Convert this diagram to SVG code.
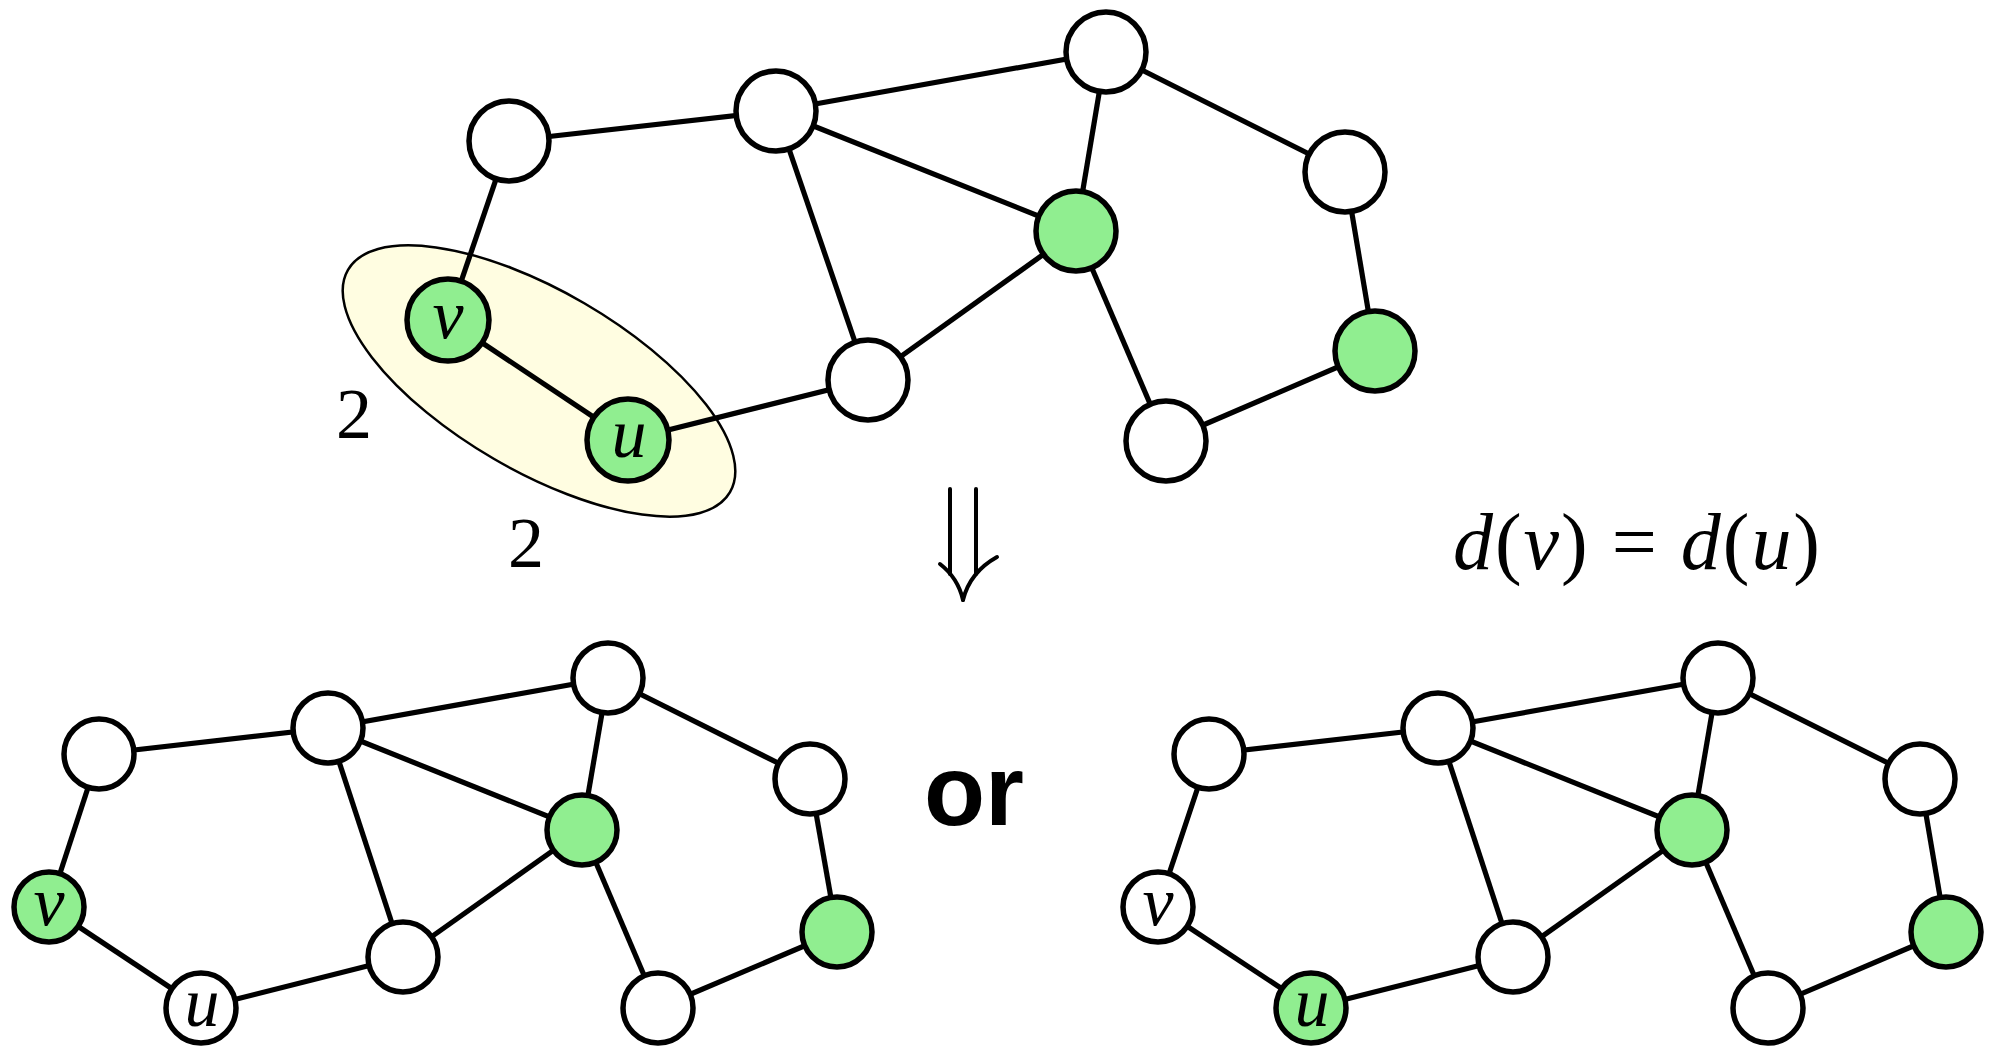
<svg xmlns="http://www.w3.org/2000/svg" width="1996" height="1049" viewBox="0 0 1996 1049">
<style>
.e{stroke:#000;stroke-width:5.2;fill:none}
.n{stroke:#000;stroke-width:5.5;fill:#fff}
.g{fill:#90EE90}
.lbl{font-family:'Liberation Serif','DejaVu Serif',serif;font-style:italic;font-size:70px;text-anchor:middle;fill:#000}
.num{font-family:'Liberation Serif','DejaVu Serif',serif;font-size:72px;text-anchor:middle;fill:#000}
.m{font-family:'Liberation Serif','DejaVu Serif',serif;font-size:80px;fill:#000}
.it{font-style:italic}
</style>
<rect width="1996" height="1049" fill="#fff"/>
<ellipse id="highlight" cx="539" cy="381" rx="221" ry="90" transform="rotate(30.2 539 381)" fill="#FFFDE1" stroke="#000" stroke-width="2.5"/>
<g id="connectors">
<line class="e" x1="509" y1="141" x2="776" y2="111"/>
<line class="e" x1="776" y1="111" x2="1106" y2="52"/>
<line class="e" x1="776" y1="111" x2="1076" y2="231"/>
<line class="e" x1="776" y1="111" x2="868" y2="380"/>
<line class="e" x1="1106" y1="52" x2="1076" y2="231"/>
<line class="e" x1="1106" y1="52" x2="1345" y2="172"/>
<line class="e" x1="1345" y1="172" x2="1375" y2="351"/>
<line class="e" x1="1076" y1="231" x2="868" y2="380"/>
<line class="e" x1="1076" y1="231" x2="1166" y2="441"/>
<line class="e" x1="1166" y1="441" x2="1375" y2="351"/>
<line class="e" x1="868" y1="380" x2="628" y2="440"/>
<line class="e" x1="509" y1="141" x2="448" y2="320"/>
<line class="e" x1="448" y1="320" x2="628" y2="440" stroke-width="7"/>
<line class="e" x1="99" y1="754" x2="328" y2="728"/>
<line class="e" x1="328" y1="728" x2="608" y2="678"/>
<line class="e" x1="328" y1="728" x2="582" y2="830"/>
<line class="e" x1="328" y1="728" x2="403" y2="957"/>
<line class="e" x1="608" y1="678" x2="582" y2="830"/>
<line class="e" x1="608" y1="678" x2="810" y2="779"/>
<line class="e" x1="810" y1="779" x2="837" y2="932"/>
<line class="e" x1="582" y1="830" x2="403" y2="957"/>
<line class="e" x1="582" y1="830" x2="658" y2="1008"/>
<line class="e" x1="658" y1="1008" x2="837" y2="932"/>
<line class="e" x1="403" y1="957" x2="201" y2="1008"/>
<line class="e" x1="99" y1="754" x2="49" y2="907"/>
<line class="e" x1="49" y1="907" x2="201" y2="1008"/>
<line class="e" x1="1209" y1="754" x2="1438" y2="728"/>
<line class="e" x1="1438" y1="728" x2="1718" y2="678"/>
<line class="e" x1="1438" y1="728" x2="1692" y2="830"/>
<line class="e" x1="1438" y1="728" x2="1513" y2="957"/>
<line class="e" x1="1718" y1="678" x2="1692" y2="830"/>
<line class="e" x1="1718" y1="678" x2="1920" y2="779"/>
<line class="e" x1="1920" y1="779" x2="1946" y2="932"/>
<line class="e" x1="1692" y1="830" x2="1513" y2="957"/>
<line class="e" x1="1692" y1="830" x2="1768" y2="1008"/>
<line class="e" x1="1768" y1="1008" x2="1946" y2="932"/>
<line class="e" x1="1513" y1="957" x2="1311" y2="1008"/>
<line class="e" x1="1209" y1="754" x2="1158" y2="907"/>
<line class="e" x1="1158" y1="907" x2="1311" y2="1008"/>
</g>
<g id="tA"><circle class="n" cx="509" cy="141" r="40"/></g>
<g id="tB"><circle class="n" cx="776" cy="111" r="40"/></g>
<g id="tC"><circle class="n" cx="1106" cy="52" r="40"/></g>
<g id="tD"><circle class="n" cx="1345" cy="172" r="40"/></g>
<g id="tE"><circle class="n g" cx="1076" cy="231" r="40" stroke-width="6"/></g>
<g id="tF"><circle class="n g" cx="1375" cy="351" r="40" stroke-width="6"/></g>
<g id="tG"><circle class="n" cx="1166" cy="441" r="40"/></g>
<g id="tH"><circle class="n" cx="868" cy="380" r="40"/></g>
<g id="tv"><circle class="n g" cx="448" cy="320" r="41" stroke-width="6.5"/><text class="lbl" x="448" y="338" font-size="72">v</text></g>
<g id="tu"><circle class="n g" cx="628" cy="440" r="41" stroke-width="6.5"/><text class="lbl" x="629" y="457" font-size="72">u</text></g>
<g id="lA"><circle class="n" cx="99" cy="754" r="35"/></g>
<g id="lB"><circle class="n" cx="328" cy="728" r="35"/></g>
<g id="lC"><circle class="n" cx="608" cy="678" r="35"/></g>
<g id="lD"><circle class="n" cx="810" cy="779" r="35"/></g>
<g id="lE"><circle class="n g" cx="582" cy="830" r="35"/></g>
<g id="lF"><circle class="n g" cx="837" cy="932" r="35"/></g>
<g id="lG"><circle class="n" cx="658" cy="1008" r="35"/></g>
<g id="lH"><circle class="n" cx="403" cy="957" r="35"/></g>
<g id="lv"><circle class="n g" cx="49" cy="907" r="35"/><text class="lbl" x="49" y="925">v</text></g>
<g id="lu"><circle class="n" cx="201" cy="1008" r="35"/><text class="lbl" x="202" y="1026">u</text></g>
<g id="rA"><circle class="n" cx="1209" cy="754" r="35"/></g>
<g id="rB"><circle class="n" cx="1438" cy="728" r="35"/></g>
<g id="rC"><circle class="n" cx="1718" cy="678" r="35"/></g>
<g id="rD"><circle class="n" cx="1920" cy="779" r="35"/></g>
<g id="rE"><circle class="n g" cx="1692" cy="830" r="35"/></g>
<g id="rF"><circle class="n g" cx="1946" cy="932" r="35"/></g>
<g id="rG"><circle class="n" cx="1768" cy="1008" r="35"/></g>
<g id="rH"><circle class="n" cx="1513" cy="957" r="35"/></g>
<g id="rv"><circle class="n" cx="1158" cy="907" r="35"/><text class="lbl" x="1158" y="925">v</text></g>
<g id="ru"><circle class="n g" cx="1311" cy="1008" r="35"/><text class="lbl" x="1312" y="1026">u</text></g>
<text class="num" x="354" y="438">2</text>
<text class="num" x="526" y="567">2</text>
<g id="implies" fill="none" stroke="#000" stroke-width="4" stroke-linecap="round">
<line x1="950" y1="489" x2="950" y2="574"/>
<line x1="976" y1="489" x2="976" y2="574"/>
<path d="M940,564 Q958,578 963,600"/>
<path d="M997,557 Q970,572 963,600"/>
</g>
<text class="m" x="1453" y="569" textLength="367" lengthAdjust="spacing"><tspan class="it">d</tspan>(<tspan class="it">v</tspan>) = <tspan class="it">d</tspan>(<tspan class="it">u</tspan>)</text>
<text x="974" y="825" font-family="Liberation Sans, Arial, sans-serif" font-weight="bold" font-size="100" text-anchor="middle">or</text>
</svg>
